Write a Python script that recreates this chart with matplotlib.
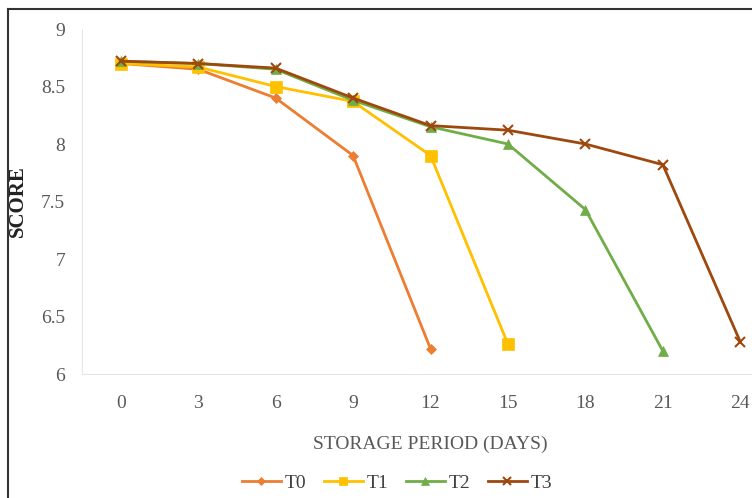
import matplotlib.pyplot as plt
from matplotlib.lines import Line2D

days = ["0", "3", "6", "9", "12", "15", "18", "21", "24"]
t0 = [8.70, 8.65, 8.40, 7.90, 6.22]
t1 = [8.70, 8.67, 8.50, 8.37, 7.90, 6.26]
t2 = [8.72, 8.70, 8.65, 8.38, 8.15, 8.00, 7.43, 6.20]
t3 = [8.72, 8.70, 8.66, 8.40, 8.16, 8.12, 8.00, 7.82, 6.28]

series = [
    ("T0", t0, "#ED7D31", "D", 5),
    ("T1", t1, "#FFC000", "s", 8),
    ("T2", t2, "#70AD47", "^", 7),
    ("T3", t3, "#9E480E", "x", 7),
]

plt.rcParams["font.family"] = ["Liberation Serif", "DejaVu Serif"]

fig = plt.figure(figsize=(7.52, 4.98), dpi=100)
ax = fig.add_axes([82 / 752, 1 - 374 / 498, 697 / 752, 345 / 498])

for name, vals, col, mk, ms in series:
    ax.plot(range(len(vals)), vals, color=col, lw=2, marker=mk, markersize=ms,
            markeredgewidth=1.5 if mk == "x" else 0.5, label=name)

ax.set_xlim(-0.5, len(days) - 0.5)
ax.set_ylim(6, 9)
ax.set_xticks(range(len(days)))
ax.set_xticklabels(days)
ax.set_yticks([6, 6.5, 7, 7.5, 8, 8.5, 9])
ax.set_yticklabels(["6", "6.5", "7", "7.5", "8", "8.5", "9"])
ax.tick_params(axis="x", length=0, labelsize=14, colors="#595959", pad=15)
ax.tick_params(axis="y", length=0, labelsize=14, colors="#595959", pad=12)
for s in ["top", "right"]:
    ax.spines[s].set_visible(False)
for s in ["left", "bottom"]:
    ax.spines[s].set_color("#e6e6e6")

ax.set_xlabel("STORAGE PERIOD (DAYS)", fontsize=14, color="#595959", labelpad=17)
fig.text(18 / 752, 1 - 201 / 498, "SCORE", rotation=90, fontsize=15,
         fontweight="bold", ha="center", va="center", color="#222222")

fig.legend(loc="center", bbox_to_anchor=(397 / 752, 1 - 483 / 498), ncol=4,
           frameon=False, fontsize=14, handlelength=2.0, columnspacing=0.9,
           handletextpad=0.2, labelcolor="#404040", markerscale=0.8)

# frame around the figure (left and top edges visible)
fig.add_artist(Line2D([8 / 752, 8 / 752], [0, 1 - 9 / 498], transform=fig.transFigure,
                      color="#333333", lw=1.5))
fig.add_artist(Line2D([8 / 752, 1], [1 - 9 / 498, 1 - 9 / 498], transform=fig.transFigure,
                      color="#333333", lw=1.5))

fig.savefig("out.png", dpi=100)
